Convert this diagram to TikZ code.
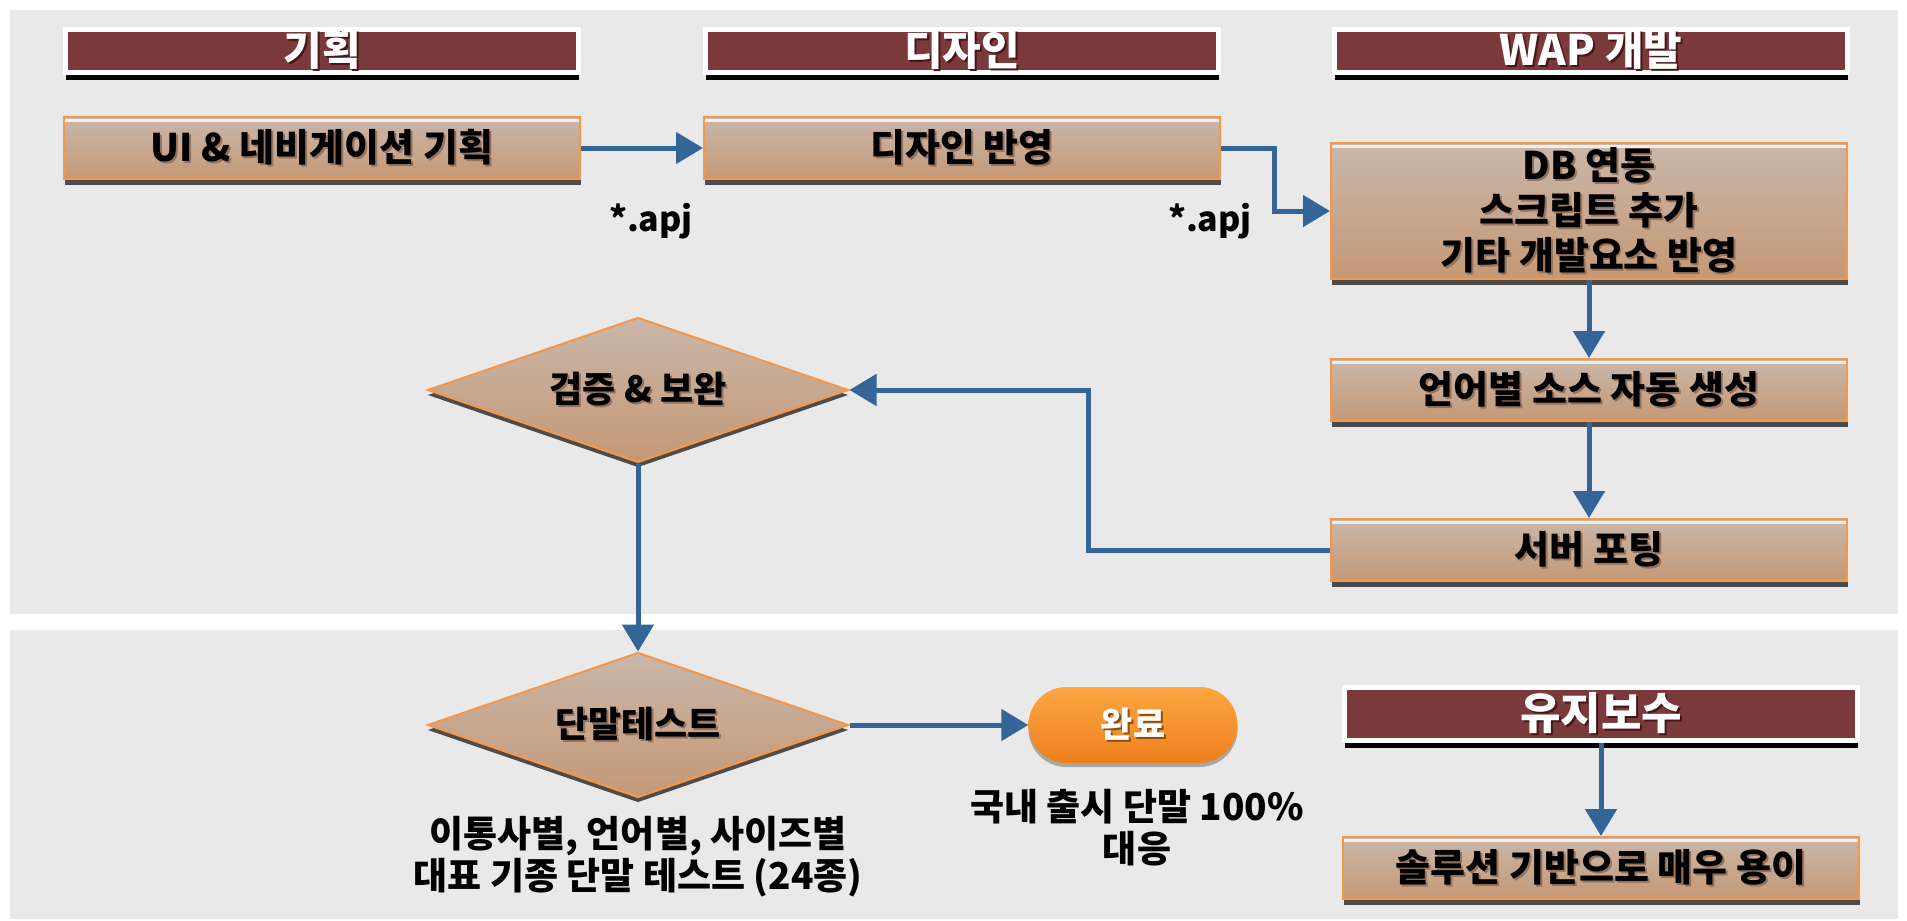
\documentclass[tikz,border=0pt]{standalone}
\usepackage{fontspec}
\setmainfont{Noto Sans CJK KR}
\usepackage{tikz}
\usetikzlibrary{shapes.geometric,shapes.misc,arrows.meta,shadows}
\usepackage{xcolor}
\definecolor{panelgray}{RGB}{233,233,233}
\definecolor{panelline}{RGB}{238,236,225}
\definecolor{headred}{RGB}{122,58,60}
\definecolor{boxtop}{RGB}{201,183,170}
\definecolor{boxbot}{RGB}{197,152,117}
\definecolor{boxline}{RGB}{247,150,70}
\definecolor{flowblue}{RGB}{52,101,153}
\definecolor{donetop}{RGB}{251,166,66}
\definecolor{donebot}{RGB}{238,128,30}
\definecolor{txtshade}{RGB}{150,115,92}
\definecolor{headshade}{RGB}{70,22,22}
\newcommand{\shtxt}[2][txtshade]{\makebox[0pt][l]{\hspace{2pt}\raisebox{-2pt}{\color{#1}#2}}#2}

\begin{document}
\begin{tikzpicture}[x=1pt,y=-1pt,
  headbox/.style={rectangle,draw=white,line width=5pt,fill=headred,text=white,
    font=\fontsize{42}{48}\selectfont\bfseries,minimum width=513pt,minimum height=43pt,inner sep=0pt,
    drop shadow={shadow xshift=0pt,shadow yshift=-7pt,fill=black,opacity=1}},
  taskbox/.style={rectangle,draw=boxline,line width=2pt,top color=boxtop,bottom color=boxbot,
    font=\fontsize{38}{45}\selectfont\bfseries,minimum width=516pt,minimum height=62pt,inner sep=0pt,align=center,
    drop shadow={shadow xshift=1pt,shadow yshift=-6pt,fill=black!70,opacity=1},
    path picture={\draw[white!75!boxtop,line width=3pt]
      ([yshift=-3pt]path picture bounding box.north west) -- ([yshift=-3pt]path picture bounding box.north east);}},
  decision/.style={diamond,draw=boxline,line width=2pt,top color=boxtop,bottom color=boxbot,
    font=\fontsize{36}{42}\selectfont\bfseries,minimum width=421pt,minimum height=145pt,inner sep=0pt,aspect=2.9,
    drop shadow={shadow xshift=0pt,shadow yshift=-5pt,fill=black!70,opacity=1}},
  donebox/.style={rounded rectangle,top color=donetop,bottom color=donebot,text=white,
    font=\fontsize{35}{40}\selectfont\bfseries,minimum width=209pt,minimum height=76pt,inner sep=0pt,
    drop shadow={shadow xshift=0pt,shadow yshift=-4pt,fill=black!60,opacity=.5}},
  note/.style={font=\fontsize{37}{42}\selectfont\bfseries,align=center,inner sep=0pt},
  flow/.style={flowblue,line width=5pt,-{Triangle[length=27pt,width=31pt]}}]

\useasboundingbox (0,0) rectangle (1907,921);
\fill[white] (0,0) rectangle (1907,921);
\draw[panelline,fill=panelgray] (10,10) rectangle (1897,613);
\draw[panelline,fill=panelgray] (10,630) rectangle (1897,918);

% stages
\node[headbox] (hplan) at (322,51) {\shtxt[headshade]{기획}};
\node[headbox] (hdesign) at (962,51) {\shtxt[headshade]{디자인}};
\node[headbox] (hwap) at (1591,51) {\shtxt[headshade]{WAP 개발}};

\node[taskbox] (plan) at (322,148) {\shtxt{UI \& 네비게이션 기획}};
\node[taskbox] (design) at (962,148) {\shtxt{디자인 반영}};
\node[taskbox,minimum height=136pt] (wap) at (1589,211) {\shtxt{DB 연동}\\\shtxt{스크립트 추가}\\\shtxt{기타 개발요소 반영}};
\node[taskbox] (gen) at (1589,390) {\shtxt{언어별 소스 자동 생성}};
\node[taskbox] (port) at (1589,550) {\shtxt{서버 포팅}};

\node[note,font=\fontsize{34}{40}\selectfont\bfseries] (apja) at (651,221) {*.apj};
\node[note,font=\fontsize{34}{40}\selectfont\bfseries] (apjb) at (1210,221) {*.apj};

\node[decision] (verify) at (638,390) {\shtxt{검증 \& 보완}};
\node[decision] (test) at (638,725) {\shtxt{단말테스트}};
\node[donebox] (done) at (1133,725) {\shtxt[donebot!60!black]{완료}};

\node[note] (testnote) at (638,857) {이통사별, 언어별, 사이즈별\\대표 기종 단말 테스트 (24종)};
\node[note] (donenote) at (1137,828) {국내 출시 단말 100\%\\대응};

\node[headbox,minimum height=53pt,font=\fontsize{44}{50}\selectfont\bfseries] (hkeep) at (1601,714) {\shtxt[headshade]{유지보수}};
\node[taskbox] (easy) at (1601,868) {\shtxt{솔루션 기반으로 매우 용이}};

% flow
\coordinate (turn) at (1088,390);
\draw[flow] (plan.east) -- (design.west);
\draw[flow] (design.east) -- ++(53,0) |- (wap.west);
\draw[flow] (wap) -- (gen);
\draw[flow] (gen) -- (port);
\draw[flow] (port.west) -| (turn) -- (verify.east);
\draw[flow] (verify) -- (test);
\draw[flow] (test.east) -- (done.west);
\draw[flow] (hkeep) -- (easy);

\end{tikzpicture}
\end{document}
